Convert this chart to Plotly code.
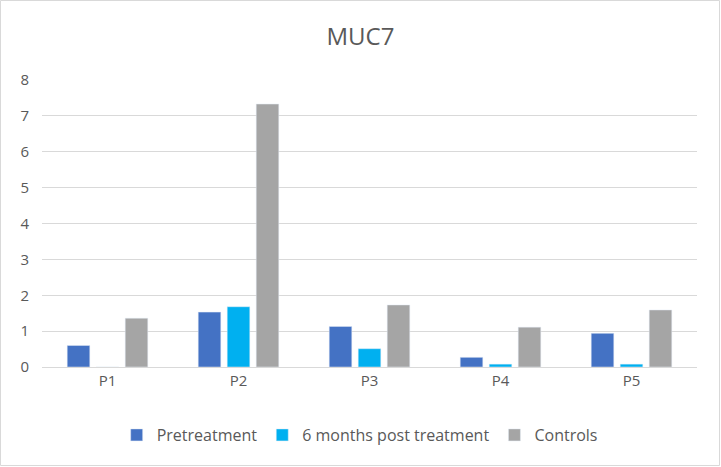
import plotly.graph_objects as go

categories = ["P1", "P2", "P3", "P4", "P5"]
pretreatment = [0.60, 1.53, 1.13, 0.27, 0.94]
post_6m = [0.0, 1.68, 0.51, 0.08, 0.08]
controls = [1.36, 7.33, 1.73, 1.11, 1.59]
y_ticks = [0, 1, 2, 3, 4, 5, 6, 7, 8]

W, H = 721, 467
L, R, T, B = 42, 24, 80, 100
pw, ph = W - L - R, H - T - B

fig = go.Figure()
fig.add_trace(go.Bar(name="Pretreatment", x=categories, y=pretreatment, marker_color="#4472C4"))
fig.add_trace(go.Bar(name="6 months post treatment", x=categories, y=post_6m, marker_color="#00B0F0"))
fig.add_trace(go.Bar(name="Controls", x=categories, y=controls, marker_color="#A5A5A5"))

fig.update_layout(
    width=W, height=H,
    margin=dict(l=L, r=R, t=T, b=B),
    paper_bgcolor="white", plot_bgcolor="white",
    barmode="group", bargap=0.336, bargroupgap=0.22,
    title=dict(text="MUC7", x=0.5, xanchor="center", y=1 - 37 / H, yanchor="middle",
               font=dict(size=24, color="#595959", family="Open Sans")),
    font=dict(family="Open Sans", color="#595959", size=15),
    legend=dict(orientation="h", x=0.485, xanchor="center", y=-(435 - (T + ph)) / ph, yanchor="middle",
                font=dict(size=16, color="#595959"), traceorder="normal", itemwidth=30),
    showlegend=True,
)
fig.update_yaxes(range=[0, 8], tickvals=y_ticks, showgrid=True, gridcolor="#D9D9D9", gridwidth=1,
                 zeroline=False, showline=False, ticklabelstandoff=12,
                 tickfont=dict(size=15, color="#595959"))
fig.update_xaxes(showgrid=False, showline=True, linecolor="#D9D9D9", linewidth=1,
                 tickfont=dict(size=15, color="#595959"))
fig.add_shape(type="rect", xref="paper", yref="paper",
              x0=-(L - 0.5) / pw, x1=1 + (R - 1.5) / pw,
              y0=-(B - 1.5) / ph, y1=1 + (T - 0.5) / ph,
              line=dict(color="#D9D9D9", width=1), fillcolor="rgba(0,0,0,0)", layer="below")
fig.write_html("out.html", config={"displayModeBar": False},
               post_script="document.body.style.margin='0';")
